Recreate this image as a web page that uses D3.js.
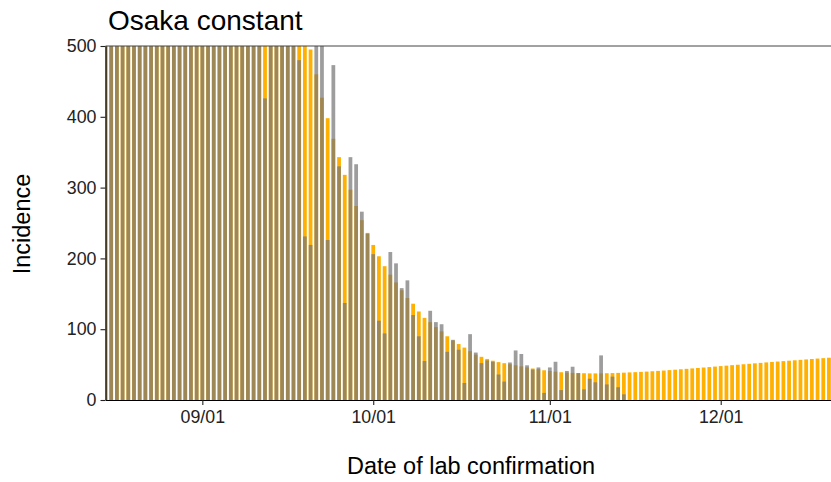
<!DOCTYPE html>
<html>
<head>
<meta charset="utf-8">
<script src="https://cdn.jsdelivr.net/npm/d3@7"></script>
<style>
  html, body { margin: 0; padding: 0; background: #fff; }
  svg { display: block; font-family: "Liberation Sans", Arial, sans-serif; }
</style>
</head>
<body>
<svg id="chart" width="831" height="482"></svg>
<script>
// ---- data (daily, starting 2021-08-15) ----
const startDate = "2021-08-15";
const chartTitle = "Osaka constant";
const yTitle = "Incidence";
const xTitle = "Date of lab confirmation";
const yTicks = [0, 100, 200, 300, 400, 500];
const xTickDates = ["2021-09-01", "2021-10-01", "2021-11-01", "2021-12-01"];
const xDomain = ["2021-08-15T00:00", "2021-12-20T08:40"];
const yDomain = [0, 500];

// observed (grey), 2021-08-15 .. 2021-11-14 (values above 500 are clipped)
const observed = [
  620, 650, 700, 680, 640, 720, 760, 700, 680, 740, 780, 720, 690, 750,
  710, 660, 640, 690, 650, 600, 630, 660, 590, 560, 610, 580, 540, 560,
  426, 560, 545, 520, 535, 510, 480, 231, 219, 515, 505, 226, 473, 330,
  137, 343, 333, 266, 235, 206, 112, 94, 209, 193, 158, 169, 120, 90,
  55, 126, 110, 107, 68, 85, 71, 24, 93, 67, 52, 56, 54, 36,
  26, 53, 70, 65, 49, 43, 46, 10, 46, 54, 14, 41, 47, 38,
  15, 30, 25, 63, 22, 33, 18, 8
];

// model "constant" (orange), 2021-08-15 .. 2021-12-20
const model = [
  1400, 1420, 1440, 1450, 1460, 1460, 1450, 1440, 1420, 1400, 1380, 1350, 1320, 1290,
  1260, 1230, 1200, 1170, 1140, 1110, 1080, 1050, 1020, 990, 960, 930, 900, 860,
  830, 790, 750, 710, 670, 630, 575, 532, 495, 460, 427, 398, 369, 343,
  318, 297, 274, 254, 236, 219, 203, 189, 177, 166, 155, 144, 136, 125,
  116, 110, 103, 97, 90, 84, 79, 74, 69, 64, 61, 58, 55.5, 53.5,
  52, 50.5, 49, 47.5, 46, 44.5, 43.5, 42, 41, 40, 39.2, 38.7, 38.3, 38,
  37.8, 37.6, 37.6, 37.6, 37.8, 38, 38.3, 38.6, 39, 39.3, 39.7, 40.1, 40.6, 41.1,
  41.6, 42.2, 42.8, 43.4, 44, 44.6, 45.2, 45.9, 46.5, 47.2, 47.9, 48.5, 49.2, 49.8,
  50.5, 51.1, 51.8, 52.4, 53.1, 53.7, 54.3, 54.9, 55.5, 56.1, 56.7, 57.3, 57.9, 58.5,
  59.1, 59.7
];

// ---- layout ----
const W = 831, H = 482;
const m = { left: 105.5, right: 831, top: 46, bottom: 400 };
const parseDay = d3.utcParse("%Y-%m-%d");
const parseTime = d3.utcParse("%Y-%m-%dT%H:%M");
const t0 = parseDay(startDate);
const dateOf = i => d3.utcDay.offset(t0, i);

const x = d3.scaleUtc().domain(xDomain.map(parseTime)).range([m.left, m.right]);
const y = d3.scaleLinear().domain(yDomain).range([m.bottom, m.top]);
const dayPx = x(dateOf(1)) - x(dateOf(0));
const bw = dayPx * 0.66;

const svg = d3.select("#chart");

svg.append("defs").append("clipPath").attr("id", "plotclip")
  .append("rect")
  .attr("x", m.left).attr("y", m.top)
  .attr("width", m.right - m.left).attr("height", m.bottom - m.top);

const plot = svg.append("g").attr("clip-path", "url(#plotclip)");

plot.append("g").selectAll("rect").data(model).join("rect")
  .attr("x", (v, i) => x(dateOf(i)) - bw / 2)
  .attr("width", bw)
  .attr("y", v => y(v))
  .attr("height", v => y(0) - y(v))
  .attr("fill", "#FFB000");

plot.append("g").selectAll("rect").data(observed).join("rect")
  .attr("x", (v, i) => x(dateOf(i)) - bw / 2)
  .attr("width", bw)
  .attr("y", v => y(v))
  .attr("height", v => y(0) - y(v))
  .attr("fill", "#777777")
  .attr("fill-opacity", 0.72);

// top border line at 500
svg.append("line")
  .attr("x1", m.left).attr("x2", m.right)
  .attr("y1", y(500)).attr("y2", y(500))
  .attr("stroke", "#444").attr("stroke-width", 1);

// axes
const yAxis = svg.append("g")
  .attr("transform", `translate(${m.left},0)`)
  .call(d3.axisLeft(y).tickValues(yTicks).tickSize(5).tickSizeOuter(0).tickPadding(4));
const xAxis = svg.append("g")
  .attr("transform", `translate(0,${m.bottom})`)
  .call(d3.axisBottom(x).tickValues(xTickDates.map(parseDay))
        .tickFormat(d3.utcFormat("%m/%d")).tickSize(5).tickSizeOuter(0).tickPadding(5));

[yAxis, xAxis].forEach(g => {
  g.selectAll(".domain").attr("stroke", "#000").attr("stroke-width", 1.1);
  g.selectAll(".tick line").attr("stroke", "#222").attr("stroke-width", 1.1);
  g.selectAll(".tick text").attr("fill", "#222")
    .style("font-size", "17.8px")
    .style("font-family", "'Liberation Sans', Arial, sans-serif");
});

// titles
svg.append("text")
  .attr("x", 108).attr("y", 30)
  .attr("fill", "#000")
  .style("font-size", "28px")
  .text(chartTitle);

svg.append("text")
  .attr("transform", `translate(30,${(m.top + m.bottom) / 2 + 1}) rotate(-90)`)
  .attr("text-anchor", "middle")
  .attr("fill", "#000")
  .style("font-size", "23.5px")
  .text(yTitle);

svg.append("text")
  .attr("x", 471).attr("y", 474)
  .attr("text-anchor", "middle")
  .attr("fill", "#000")
  .style("font-size", "23.5px")
  .text(xTitle);
</script>
</body>
</html>
